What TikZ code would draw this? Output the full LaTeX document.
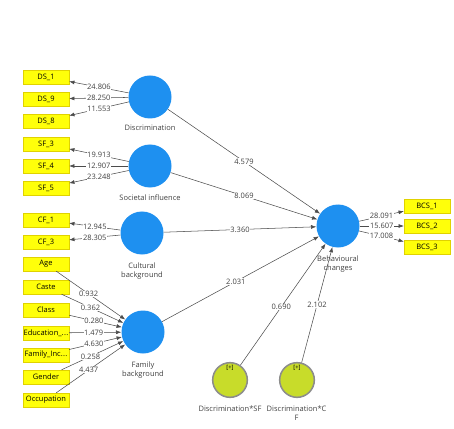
\documentclass[tikz,border=0pt]{standalone}
\usepackage{fontspec}
\setmainfont{Open Sans}
\usetikzlibrary{arrows.meta,positioning}
\tikzset{%
  latent/.style={circle,fill=plsblue,minimum size=1.29cm,inner sep=0pt},
  moder/.style={circle,fill=plsgreen,draw=plsgrey,line width=1.3pt,minimum size=1.04cm,inner sep=0pt},
  ind/.style={rectangle,fill=plsyellow,draw=plsyellowdk,line width=0.3pt,minimum width=1.38cm,minimum height=0.42cm,inner sep=0pt},
  lbl/.style={align=center,inner sep=1pt,text=black!75},
  coef/.style={fill=white,inner sep=0.5pt,text=black!75},
  path/.style={draw=black!70,line width=0.45pt,-{Latex[length=4.5pt,width=3.4pt]}}
}
\newcommand{\trail}{.\kern0.3pt.\kern0.3pt.}

\begin{document}
\begin{tikzpicture}[x=0.03cm,y=-0.03cm,font=\fontsize{6.4}{7.6}\selectfont]
% ---- colors ----
\definecolor{plsblue}{HTML}{1E90F0}     % latent constructs
\definecolor{plsgreen}{HTML}{C8DC2A}    % interaction terms
\definecolor{plsgrey}{HTML}{8C8C8C}     % interaction border
\definecolor{plsyellow}{HTML}{FFFF0A}   % indicators
\definecolor{plsyellowdk}{HTML}{E0D200} % indicator border

\useasboundingbox (0,0) rectangle (454,429);

% ===================== constructs =====================
\node[latent] (disc) at (150,97)  {};
\node[latent] (soc)  at (150,166) {};
\node[latent] (cult) at (142,233) {};
\node[latent] (fam)  at (143,332) {};
\node[latent] (beh)  at (338,226) {};
\node[moder]  (modSF) at (230,380) {};
\node[moder]  (modCF) at (297,380) {};
\node[font=\fontsize{5}{5}\selectfont,anchor=north,inner sep=0pt] (plusSF) at ([yshift=-2.5pt]modSF.north) {[+]};
\node[font=\fontsize{5}{5}\selectfont,anchor=north,inner sep=0pt] (plusCF) at ([yshift=-2.5pt]modCF.north) {[+]};

% ---- construct labels ----
\node[lbl,below=0.16cm of disc]  (discLbl) {Discrimination};
\node[lbl,below=0.16cm of soc]   (socLbl)  {Societal influence};
\node[lbl,below=0.2cm of cult]   (cultLbl) {Cultural\\background};
\node[lbl,below=0.2cm of fam]    (famLbl)  {Family\\background};
\node[lbl,below=0.2cm of beh]    (behLbl)  {Behavioural\\changes};
\node[lbl,below=0.18cm of modSF] (modSFLbl) {Discrimination*SF};
\node[lbl,below=0.18cm of modCF,anchor=north west,xshift=-0.95cm] (modCFLbl) {Discrimination*C\\F};

% ===================== indicators =====================
\foreach \nm/\txt/\yy in {ds1/DS\_1/77, ds9/DS\_9/99, ds8/DS\_8/121,
                          sf3/SF\_3/144, sf4/SF\_4/166, sf5/SF\_5/188,
                          cf1/CF\_1/220, cf3/CF\_3/242,
                          age/Age/264, caste/Caste/287, class/Class/310,
                          edu/Education\_\trail/333, inc/Family\_Inc\trail/355,
                          gen/Gender/377, occ/Occupation/400}
  \node[ind] (\nm) at (46,\yy) {\txt};
\foreach \nm/\txt/\yy in {bcs1/BCS\_1/206, bcs2/BCS\_2/226, bcs3/BCS\_3/247}
  \node[ind] (\nm) at (427,\yy) {\txt};

% ---- reflective loadings ----
\foreach \lv/\nm/\val in {disc/ds1/24.806, disc/ds9/28.250, disc/ds8/11.553,
                          soc/sf3/19.913, soc/sf4/12.907, soc/sf5/23.248,
                          cult/cf1/12.945, cult/cf3/28.305,
                          beh/bcs1/28.091, beh/bcs2/15.607, beh/bcs3/17.008}
  \draw[path] (\lv) -- node[coef,pos=0.5] {\val} (\nm);

% ---- formative weights ----
\foreach \nm/\val in {age/0.932, caste/0.362, class/0.280, edu/1.479,
                      inc/4.630, gen/0.258, occ/4.437}
  \draw[path] (\nm) -- node[coef,pos=0.47] {\val} (fam);

% ===================== structural paths =====================
\draw[path] (disc)  -- node[coef] {4.579} (beh);
\draw[path] (soc)   -- node[coef] {8.069} (beh);
\draw[path] (cult)  -- node[coef] {3.360} (beh);
\draw[path] (fam)   -- node[coef,pos=0.47] {2.031} (beh);
\draw[path] (modSF) -- node[coef,pos=0.48] {0.690} (beh);
\draw[path] (modCF) -- node[coef] {2.102} (beh);

\end{tikzpicture}
\end{document}
